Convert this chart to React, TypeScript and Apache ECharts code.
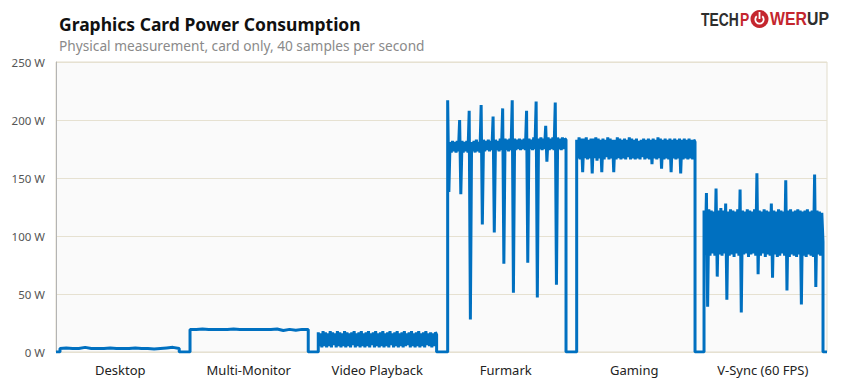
import React, { useEffect, useRef } from "react";
import * as echarts from "echarts";

const categories = ["Desktop", "Multi-Monitor", "Video Playback", "Furmark", "Gaming", "V-Sync (60 FPS)"];
const yTicks = [0, 50, 100, 150, 200, 250];

const desktopW = [3, 3.5, 3, 3, 4, 3, 3, 3, 3.5, 3, 3, 3, 3.5, 3, 3, 2.5, 3, 3.5, 4, 3];
const multiMonitorW = [19.5, 19.5, 19.8, 19.5, 19.5, 19.3, 19.5, 19.8, 19.5, 19.5, 19.5, 19.3, 19.5, 19.5, 19.8, 18.5, 19.5, 18.8, 19.5, 19.5];
const videoPlaybackW = [
  17, 5, 16, 4, 18, 5, 17, 4, 16, 5, 18, 4, 17, 6, 16, 4, 18, 5, 17, 4,
  16, 5, 18, 4, 17, 5, 16, 4, 17, 6, 18, 4, 16, 5, 17, 4, 18, 5, 16, 4,
  17, 5, 18, 4, 16, 6, 17, 4, 18, 5, 16, 4, 17, 5, 18, 4, 16, 5, 17, 4,
  18, 6, 16, 4, 17, 5, 18, 4, 16, 5, 17, 4, 18, 5, 16, 6, 17, 4, 18, 5,
  16, 4, 17, 5, 18, 4, 16, 5, 17, 4, 18, 6, 16, 5, 17, 4, 16, 5, 17, 15,
];
const furmarkW = [
  217, 138, 181, 172, 182, 173, 181, 172, 182, 173, 200, 136, 182, 172, 181, 173, 182, 172, 208, 28,
  181, 173, 182, 172, 183, 173, 181, 172, 213, 110, 183, 173, 182, 174, 183, 173, 182, 174, 203, 103,
  183, 174, 182, 173, 184, 174, 210, 76, 184, 174, 183, 173, 184, 174, 217, 51, 184, 174, 183, 175,
  184, 174, 183, 175, 184, 174, 208, 77, 184, 175, 183, 174, 185, 175, 216, 47, 184, 175, 185, 174,
  184, 175, 195, 164, 185, 174, 184, 175, 185, 174, 215, 58, 185, 175, 184, 174, 185, 175, 184, 183,
];
const gamingW = [
  183, 167, 185, 166, 184, 155, 184, 167, 185, 166, 183, 167, 184, 154, 184, 167, 185, 165, 184, 167,
  183, 155, 184, 166, 183, 168, 185, 166, 184, 167, 183, 155, 183, 166, 185, 167, 184, 166, 183, 167,
  184, 166, 183, 168, 185, 166, 184, 167, 183, 166, 184, 167, 182, 166, 183, 168, 184, 166, 183, 167,
  184, 166, 183, 162, 184, 167, 183, 166, 185, 167, 184, 158, 183, 166, 184, 167, 183, 166, 184, 155,
  183, 167, 184, 166, 183, 167, 184, 154, 183, 166, 184, 167, 183, 166, 184, 167, 183, 166, 183, 181,
];
const vsyncW = [
  122, 84, 137, 39, 123, 83, 122, 85, 121, 83, 141, 65, 122, 84, 124, 83, 122, 85, 128, 45,
  121, 83, 123, 84, 122, 82, 121, 85, 123, 83, 140, 34, 122, 84, 121, 85, 123, 82, 122, 84,
  121, 85, 123, 83, 154, 67, 122, 83, 121, 85, 123, 82, 122, 84, 121, 83, 128, 64, 122, 84,
  121, 82, 123, 83, 122, 85, 121, 83, 148, 53, 122, 82, 123, 84, 121, 83, 122, 82, 123, 84,
  122, 41, 121, 83, 122, 82, 123, 84, 121, 83, 122, 82, 153, 56, 122, 84, 121, 83, 120, 95,
];
const testSamples = [desktopW, multiMonitorW, videoPlaybackW, furmarkW, gamingW, vsyncW];
// Each test runs inside its category slot; the card idles at 0 W between tests.
const testWindows = [
  [0.031, 0.959],
  [0.043, 0.963],
  [0.041, 0.962],
  [0.048, 0.969],
  [0.052, 0.973],
  [0.043, 0.969],
];

function buildTrace(): number[][] {
  const pts: number[][] = [[0, 0]];
  testSamples.forEach((vals, k) => {
    const [s, e] = testWindows[k];
    pts.push([k + s, 0]);
    const n = vals.length;
    vals.forEach((v, i) => {
      pts.push([k + s + ((e - s) * i) / (n - 1), v]);
    });
    pts.push([k + e, 0]);
  });
  pts.push([categories.length, 0]);
  return pts;
}

export default function App() {
  const ref = useRef<HTMLDivElement>(null);
  useEffect(() => {
    if (!ref.current) return;
    const chart = echarts.init(ref.current, null, { renderer: "svg" });
    const red = "#c4262e";
    const dark = "#2e2e2e";
    const logoFont = "bold 18px 'Liberation Sans'";
    chart.setOption({
      animation: false,
      backgroundColor: "#ffffff",
      title: [
        {
          text: "Graphics Card Power Consumption",
          left: 59,
          top: 15,
          padding: 0,
          textStyle: { fontFamily: "Noto Sans", fontWeight: "bold", fontSize: 17.5, color: "#111" },
        },
        {
          text: "Physical measurement, card only, 40 samples per second",
          left: 59,
          top: 38.5,
          padding: 0,
          textStyle: { fontFamily: "Noto Sans", fontWeight: "normal", fontSize: 13.7, color: "#8a8a8a" },
        },
      ],
      graphic: [
        {
          type: "group",
          children: [
            { type: "text", x: 701, y: 19.5, scaleX: 0.77, style: { text: "TECH", fill: dark, font: logoFont, verticalAlign: "middle" } },
            { type: "text", x: 740, y: 19.5, scaleX: 0.77, style: { text: "P", fill: red, font: logoFont, verticalAlign: "middle" } },
            { type: "circle", shape: { cx: 759.5, cy: 19, r: 9 }, style: { fill: red } },
            { type: "arc", shape: { cx: 759.5, cy: 19.5, r: 4.2, startAngle: -Math.PI / 2 + 0.7, endAngle: Math.PI * 1.5 - 0.7 }, style: { stroke: "#fff", lineWidth: 1.8, fill: "none" } },
            { type: "line", shape: { x1: 759.5, y1: 12, x2: 759.5, y2: 19 }, style: { stroke: "#fff", lineWidth: 1.8 } },
            { type: "text", x: 770, y: 19.5, scaleX: 0.88, style: { text: "WER", fill: red, font: logoFont, verticalAlign: "middle" } },
            { type: "text", x: 807, y: 19.5, scaleX: 0.88, style: { text: "UP", fill: dark, font: logoFont, verticalAlign: "middle" } },
          ],
        },
      ],
      grid: {
        left: 56,
        right: 14,
        top: 62,
        bottom: 35,
        show: true,
        backgroundColor: "#fafafa",
        borderColor: "#e2ddcc",
        borderWidth: 1,
      },
      xAxis: [
        {
          type: "value",
          min: 0,
          max: categories.length,
          show: false,
        },
        {
          type: "category",
          data: categories,
          position: "bottom",
          boundaryGap: true,
          axisLine: { show: false },
          axisTick: { show: false },
          splitLine: { show: false },
          axisLabel: { color: "#222", fontSize: 13, fontFamily: "Noto Sans", margin: 11 },
        },
      ],
      yAxis: {
        type: "value",
        min: yTicks[0],
        max: yTicks[yTicks.length - 1],
        interval: 50,
        axisLine: { show: true, lineStyle: { color: "#b4b4b4", width: 1 } },
        axisTick: { show: false },
        splitLine: { lineStyle: { color: "#e6e1d1", width: 1 } },
        axisLabel: { formatter: "{value} W", color: "#555", fontSize: 11.5, fontFamily: "Noto Sans", margin: 11 },
      },
      series: [
        {
          type: "line",
          xAxisIndex: 0,
          data: buildTrace(),
          showSymbol: false,
          symbol: "none",
          lineStyle: { color: "#0070c0", width: 3 },
          z: 3,
        },
      ],
    });
    return () => chart.dispose();
  }, []);
  return <div ref={ref} style={{ position: "fixed", left: 0, top: 0, width: 841, height: 387 }} />;
}
